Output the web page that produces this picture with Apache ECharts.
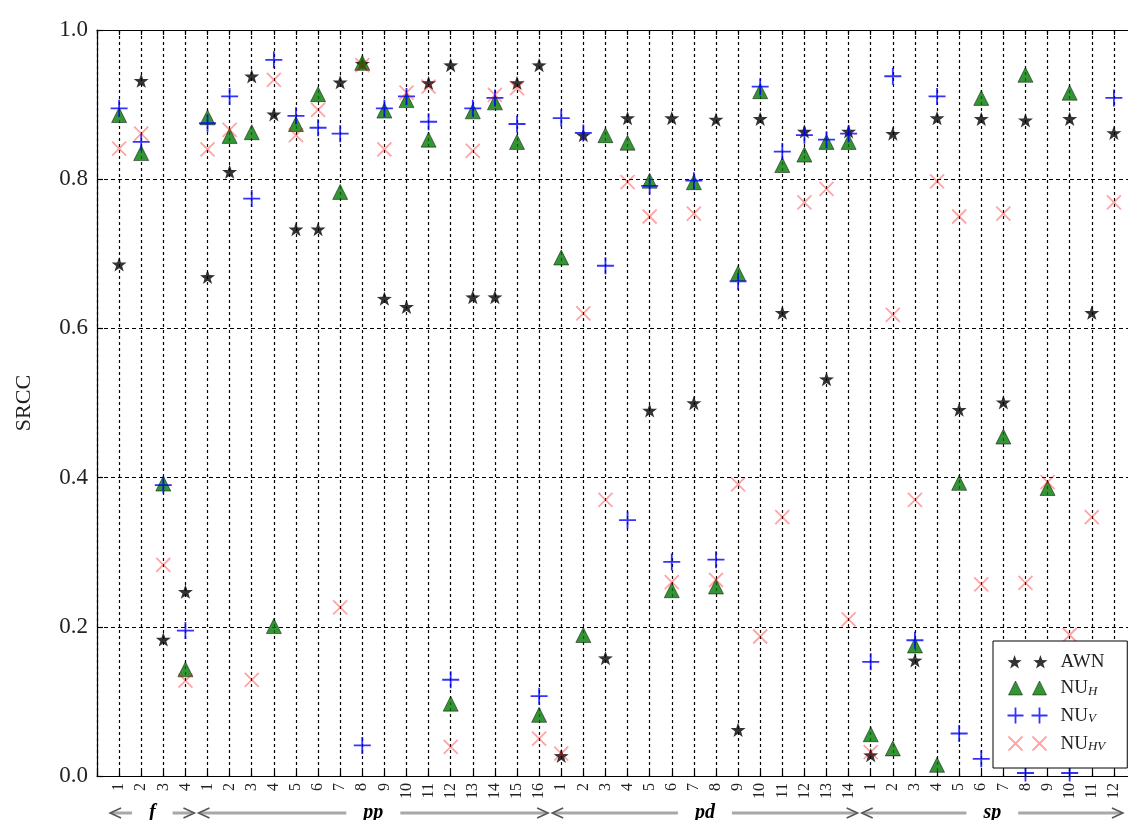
<!DOCTYPE html>
<html><head><meta charset="utf-8">
<script src="https://cdn.jsdelivr.net/npm/echarts@6/dist/echarts.min.js"></script>
<style>html,body{margin:0;padding:0;background:#fff}#c{width:1128px;height:820px}</style>
</head><body><div id="c"></div>
<script>
// ---- data ----
const groupNames = ['f', 'pp', 'pd', 'sp'];
const groupSizes = [4, 16, 14, 12];
const xTickLabels = [
  '1','2','3','4',
  '1','2','3','4','5','6','7','8','9','10','11','12','13','14','15','16',
  '1','2','3','4','5','6','7','8','9','10','11','12','13','14',
  '1','2','3','4','5','6','7','8','9','10','11','12'
];
const yTicks = ['0.0', '0.2', '0.4', '0.6', '0.8', '1.0'];
const seriesNames = ['AWN', 'NU_H', 'NU_V', 'NU_HV'];
const awn = [0.686, 0.932, 0.183, 0.247,
  0.669, 0.810, 0.938, 0.887, 0.733, 0.733, 0.930, 0.955, 0.640, 0.629, 0.929, 0.953, 0.642, 0.642, 0.929, 0.953,
  0.027, 0.859, 0.158, 0.882, 0.490, 0.882, 0.500, 0.880, 0.062, 0.881, 0.621, 0.864, 0.532, 0.864,
  0.028, 0.861, 0.155, 0.882, 0.491, 0.881, 0.501, 0.879, 0.100, 0.881, 0.621, 0.862];
const nuH = [0.886, 0.835, 0.392, 0.143,
  0.883, 0.858, 0.863, 0.201, 0.874, 0.914, 0.783, 0.956, 0.892, 0.906, 0.853, 0.097, 0.891, 0.903, 0.850, 0.082,
  0.695, 0.189, 0.859, 0.849, 0.798, 0.249, 0.796, 0.254, 0.674, 0.918, 0.819, 0.833, 0.850, 0.850,
  0.056, 0.037, 0.175, 0.015, 0.393, 0.909, 0.455, 0.940, 0.386, 0.916, 0.090, 0.080];
const nuV = [0.895, 0.850, 0.390, 0.195,
  0.875, 0.911, 0.774, 0.960, 0.885, 0.869, 0.861, 0.041, 0.895, 0.911, 0.877, 0.129, 0.895, 0.909, 0.874, 0.107,
  0.882, 0.862, 0.684, 0.343, 0.791, 0.287, 0.798, 0.290, 0.663, 0.924, 0.837, 0.859, 0.853, 0.861,
  0.153, 0.938, 0.182, 0.911, 0.057, 0.023, 0.090, 0.004, 0.120, 0.004, 0.110, 0.909];
const nuHV = [0.841, 0.861, 0.283, 0.128,
  0.840, 0.866, 0.129, 0.933, 0.859, 0.893, 0.226, 0.953, 0.840, 0.916, 0.924, 0.039, 0.838, 0.913, 0.922, 0.050,
  0.030, 0.620, 0.370, 0.796, 0.750, 0.260, 0.754, 0.263, 0.391, 0.187, 0.347, 0.769, 0.787, 0.210,
  0.032, 0.618, 0.370, 0.797, 0.750, 0.257, 0.754, 0.259, 0.394, 0.189, 0.347, 0.769];

// ---- styling helpers ----
const FONT = 'Liberation Serif';
function starPts(cx, cy, R) {
  const r = R * 0.4, p = [];
  for (let k = 0; k < 10; k++) {
    const a = -Math.PI / 2 + k * Math.PI / 5, rr = k % 2 ? r : R;
    p.push((cx + rr * Math.cos(a)).toFixed(2) + ',' + (cy + rr * Math.sin(a)).toFixed(2));
  }
  return 'M' + p.join('L') + 'Z';
}
const STAR = 'path://' + starPts(10, 10, 10);
const PLUS = 'path://M0,5L10,5M5,0L5,10';
const CROSS = 'path://M0,0L10,10M0,10L10,0';
const BOX = 'M0,0M40,16';
const legendIcons = [
  'path://' + BOX + starPts(7, 8.5, 7.5) + starPts(33, 8.5, 7.5),
  'path://' + BOX + 'M1,15L8,1L15,15ZM25,15L32,1L39,15Z',
  'path://' + BOX + 'M0,8L16,8M8,0L8,16M24,8L40,8M32,0L32,16',
  'path://' + BOX + 'M1,1L15,15M1,15L15,1M25,1L39,15M25,15L39,1'
];
const styles = [
  { symbol: STAR, size: 15, item: { color: '#000' } },
  { symbol: 'triangle', size: 15, item: { color: '#007a00', borderColor: '#000', borderWidth: 0.6 } },
  { symbol: PLUS, size: 17, item: { color: 'none', borderColor: '#0000ff', borderWidth: 1.8 } },
  { symbol: CROSS, size: 14, item: { color: 'none', borderColor: 'rgba(255,0,0,0.45)', borderWidth: 1.8 } }
];
const values = [awn, nuH, nuV, nuHV];
const nCat = xTickLabels.length;

const chart = echarts.init(document.getElementById('c'), null, { renderer: 'canvas' });
const axisCommon = {
  type: 'value', min: 0, max: nCat + 1, interval: 1,
  axisLine: { show: true, lineStyle: { color: '#000', width: 1.2 } },
  axisTick: { show: true, inside: true, length: 5, lineStyle: { color: '#000', width: 1.2 } }
};
const option = {
  animation: false,
  backgroundColor: '#fff',
  grid: { left: 97, top: 30, width: 1039, height: 746, containLabel: false, outerBoundsMode: 'none' },
  xAxis: [
    Object.assign({}, axisCommon, {
      position: 'bottom',
      axisLabel: {
        rotate: 90, margin: 7, fontFamily: FONT, fontSize: 16, color: '#222',
        formatter: v => (v >= 1 && v <= nCat) ? xTickLabels[v - 1] : ''
      },
      splitLine: { show: true, lineStyle: { color: '#000', type: [3, 3], width: 1.2 } }
    }),
    Object.assign({}, axisCommon, {
      position: 'top', axisLabel: { show: false }, splitLine: { show: false }
    })
  ],
  yAxis: {
    type: 'value', min: 0, max: 1, interval: 0.2,
    name: 'SRCC', nameLocation: 'middle', nameRotate: 90, nameGap: 62,
    nameTextStyle: { fontFamily: FONT, fontSize: 22, color: '#222' },
    axisLine: { show: true, lineStyle: { color: '#000', width: 1.2 } },
    axisTick: { show: true, inside: true, length: 6, lineStyle: { color: '#000', width: 1.2 } },
    axisLabel: { margin: 9, fontFamily: FONT, fontSize: 23, color: '#222',
      formatter: v => yTicks[Math.round(v / 0.2)] },
    splitLine: { show: true, lineStyle: { color: '#000', type: [4, 3], width: 1.2 } }
  },
  legend: {
    z: 20,
    orient: 'vertical', left: 993, top: 641,
    padding: [12, 22, 14, 12], itemGap: 7, itemWidth: 40, itemHeight: 16,
    backgroundColor: '#fff', borderColor: '#000', borderWidth: 1, borderRadius: 0,
    selectedMode: false,
    data: seriesNames.map((n, k) => ({ name: n, icon: legendIcons[k], itemStyle: styles[k].item })),
    formatter: name => {
      const parts = name.split('_');
      return parts.length > 1 ? '{n|' + parts[0] + '}{s|' + parts[1] + '}' : '{n|' + name + '}';
    },
    textStyle: {
      padding: [0, 0, 0, 8],
      rich: {
        n: { fontFamily: FONT, fontSize: 19, color: '#222', lineHeight: 20, verticalAlign: 'bottom' },
        s: { fontFamily: FONT, fontSize: 13, fontStyle: 'italic', color: '#222', lineHeight: 12, verticalAlign: 'bottom' }
      }
    }
  },
  series: seriesNames.map((n, k) => ({
    name: n, type: 'scatter', z: 2,
    symbol: styles[k].symbol, symbolSize: styles[k].size, symbolKeepAspect: true,
    itemStyle: styles[k].item,
    emphasis: { disabled: true },
    data: values[k].map((v, i) => [i + 1, v])
  }))
};
chart.setOption(option);

// group annotations under the axis, positioned through the x scale
const gy = 813;
const graphics = [];
let start = 0.5;
groupSizes.forEach((n, k) => {
  const end = start + n;
  const x0 = chart.convertToPixel({ xAxisIndex: 0 }, start) + 2;
  const x1 = chart.convertToPixel({ xAxisIndex: 0 }, end) - 2;
  graphics.push({ type: 'line', silent: true, z: 10, shape: { x1: x0 + 2, y1: gy, x2: x1 - 2, y2: gy },
    style: { stroke: '#a8a8a8', lineWidth: 3 } });
  graphics.push({ type: 'polyline', silent: true, z: 11, shape: { points: [[x0 + 11, gy - 5], [x0, gy], [x0 + 11, gy + 5]] },
    style: { stroke: '#555', lineWidth: 1.5, fill: null } });
  graphics.push({ type: 'polyline', silent: true, z: 11, shape: { points: [[x1 - 11, gy - 5], [x1, gy], [x1 - 11, gy + 5]] },
    style: { stroke: '#555', lineWidth: 1.5, fill: null } });
  graphics.push({ type: 'text', silent: true, z: 12, x: (x0 + x1) / 2, y: gy,
    style: { text: groupNames[k], fontFamily: FONT, fontStyle: 'italic', fontWeight: 'bold', fontSize: 20, fill: '#000',
      align: 'center', verticalAlign: 'middle', backgroundColor: '#fff', padding: [1, 17, 1, 17] } });
  start = end;
});
chart.setOption({ graphic: graphics });
</script>
</body></html>
